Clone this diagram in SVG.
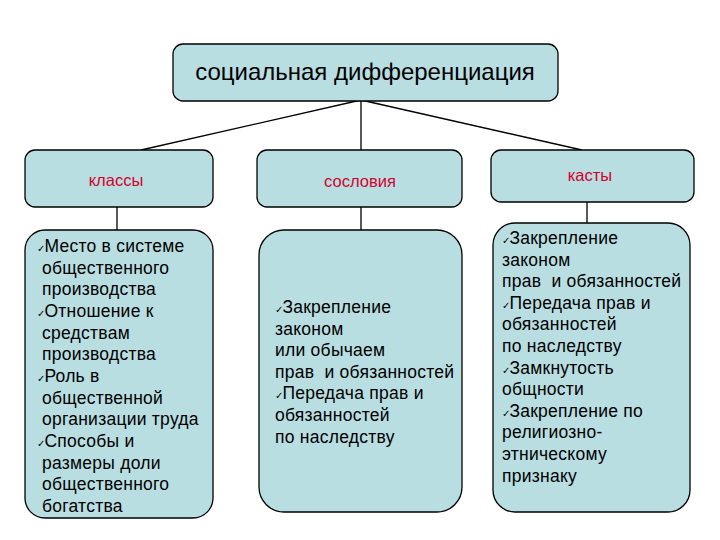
<svg xmlns="http://www.w3.org/2000/svg" width="720" height="540" viewBox="0 0 720 540">
<style>
.box{fill:#B8DEE1;stroke:#000;stroke-width:1.3}
.conn line{stroke:#000;stroke-width:1.3}
.t{font-family:"Liberation Sans",Arial,sans-serif;fill:#000}
.title{font-size:24px}
.lab{font-size:16.5px;fill:#D4002C}
.body{font-size:17.5px;letter-spacing:0.25px;white-space:pre}
.ck{font-family:"DejaVu Sans",sans-serif;font-size:10px;letter-spacing:-1px}
</style>
<rect width="720" height="540" fill="#fff"/>
<g id="connectors" class="conn">
<line x1="361" y1="100" x2="141" y2="150"/>
<line x1="361" y1="100" x2="361" y2="150"/>
<line x1="361" y1="100" x2="582" y2="150"/>
<line x1="117" y1="207" x2="117" y2="230"/>
<line x1="361" y1="207" x2="361" y2="230"/>
<line x1="587" y1="202" x2="587" y2="223"/>
</g>
<g id="root">
<rect class="box" x="173" y="44" width="385" height="57" rx="10"/>
<text class="t title" x="365" y="80" text-anchor="middle">социальная дифференциация</text>
</g>
<g id="classes">
<rect class="box" x="25" y="150" width="188" height="57" rx="10"/>
<text class="t lab" x="116" y="186" text-anchor="middle">классы</text>
</g>
<g id="estates">
<rect class="box" x="257" y="150" width="205" height="57" rx="10"/>
<text class="t lab" x="360" y="187" text-anchor="middle">сословия</text>
</g>
<g id="castes">
<rect class="box" x="491" y="150" width="203" height="52" rx="10"/>
<text class="t lab" x="590" y="181" text-anchor="middle">касты</text>
</g>
<g id="classes-body">
<rect class="box" x="25" y="230" width="188" height="288" rx="20"/>
<text class="t body">
<tspan x="37" y="252"><tspan class="ck">✓</tspan>Место в системе</tspan>
<tspan x="42" y="273.7">общественного</tspan>
<tspan x="42" y="295.3">производства</tspan>
<tspan x="37" y="317"><tspan class="ck">✓</tspan>Отношение к</tspan>
<tspan x="42" y="338.7">средствам</tspan>
<tspan x="42" y="360.3">производства</tspan>
<tspan x="37" y="382"><tspan class="ck">✓</tspan>Роль в</tspan>
<tspan x="42" y="403.7">общественной</tspan>
<tspan x="42" y="425.3">организации труда</tspan>
<tspan x="37" y="447"><tspan class="ck">✓</tspan>Способы и</tspan>
<tspan x="42" y="468.7">размеры доли</tspan>
<tspan x="42" y="490.3">общественного</tspan>
<tspan x="42" y="512">богатства</tspan>
</text>
</g>
<g id="estates-body">
<rect class="box" x="259" y="230" width="203" height="282" rx="25"/>
<text class="t body">
<tspan x="275" y="313"><tspan class="ck">✓</tspan>Закрепление</tspan>
<tspan x="275" y="334.6">законом</tspan>
<tspan x="275" y="356.2">или обычаем</tspan>
<tspan x="275" y="377.8">прав  и обязанностей</tspan>
<tspan x="275" y="399.4"><tspan class="ck">✓</tspan>Передача прав и</tspan>
<tspan x="275" y="421">обязанностей</tspan>
<tspan x="275" y="442.6">по наследству</tspan>
</text>
</g>
<g id="castes-body">
<rect class="box" x="493" y="223" width="197" height="289" rx="22"/>
<text class="t body">
<tspan x="502" y="244"><tspan class="ck">✓</tspan>Закрепление</tspan>
<tspan x="502" y="265.6">законом</tspan>
<tspan x="502" y="287.2">прав  и обязанностей</tspan>
<tspan x="502" y="308.8"><tspan class="ck">✓</tspan>Передача прав и</tspan>
<tspan x="502" y="330.4">обязанностей</tspan>
<tspan x="502" y="352">по наследству</tspan>
<tspan x="502" y="373.6"><tspan class="ck">✓</tspan>Замкнутость</tspan>
<tspan x="502" y="395.2">общности</tspan>
<tspan x="502" y="416.8"><tspan class="ck">✓</tspan>Закрепление по</tspan>
<tspan x="502" y="438.4">религиозно-</tspan>
<tspan x="502" y="460">этническому</tspan>
<tspan x="502" y="481.6">признаку</tspan>
</text>
</g>
</svg>
